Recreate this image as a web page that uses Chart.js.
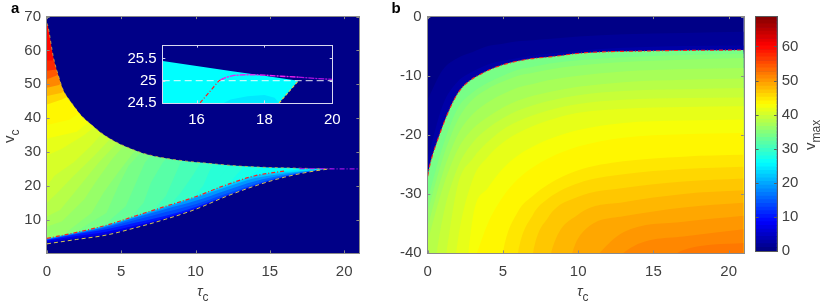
<!DOCTYPE html>
<html><head><meta charset="utf-8">
<script src="https://cdn.jsdelivr.net/npm/chart.js@4"></script>
<style>
html,body{margin:0;padding:0;background:#fff;width:830px;height:307px;overflow:hidden}
canvas{position:absolute;display:block}
</style></head><body>
<canvas id="panelA" width="380" height="307" style="left:0;top:0;width:380px;height:307px"></canvas>
<canvas id="inset" width="260" height="110" style="left:100px;top:30px;width:260px;height:110px"></canvas>
<canvas id="panelB" width="370" height="307" style="left:380px;top:0;width:370px;height:307px"></canvas>
<canvas id="cbar" width="80" height="307" style="left:750px;top:0;width:80px;height:307px"></canvas>
<script>
// ---------- Data ----------
const vmaxTop = 68.8;
const colorbarTicks = [0,10,20,30,40,50,60];

// Panel a: boundaries of the wedge
const upperTau = [0,.07,.43,.75,1.1,1.4,1.77,2.3,2.9,3.6,4.45,5.4,6.5,7.8,9.4,10.3,11.5,13,15,16,17,18,19,21];
const upperV   = [68,67,58,52.8,48.2,46,43.8,40.8,38.4,35.8,33.4,31.4,29.6,28.3,27.3,26.9,26.4,25.85,25.44,25.33,25.22,25.11,25,25];
const lowTau   = [0,2,4,6,8,10,12,14,16,18,19];
const redV     = [4.5,6.3,8.4,11.2,14,16.8,20.2,23,24.4,25.1,25.08];
const whiteV   = [2.9,4.2,5.5,7.7,10.2,13.1,16.8,20,22.6,24.4,25];
const tailTau  = [17,18,19,20,21];
const tailV    = [25.13,25.1,25.07,25.03,25.02];

// Panel a: contours of the blue sliver (value of the region beneath each curve)
const sliverValues = [22,19,16,13,10,7,4];
const sliverCurves = [
 [4.4,6.2,8.3,11.1,13.9,16.7,20,22.9,24,24.65,24.9],
 [4.3,6.1,8.2,10.9,13.7,16.5,19.5,22.3,23.7,24.6,24.95],
 [4.2,6,8,10.7,13.2,15.6,18.6,21.4,23.2,24.5,24.95],
 [4.1,5.9,7.7,10,12.3,14.6,17.6,20.6,22.9,24.45,24.95],
 [4,5.7,7.2,9.2,11.2,13.8,17,20.2,22.7,24.4,24.95],
 [3.8,5.2,6.5,8.4,10.6,13.3,16.9,20.1,22.65,24.4,24.95],
 [3.4,4.6,5.8,7.8,10.3,13.2,16.85,20.05,22.6,24.4,24.95]
];

// Panel a: contours of the main wedge, lowest value painted first
const fanValues = [27,28,29,30,31,32,33,34,35,36,37,38,39,40,41,42,43,44,46,48,51,54,57,60];
const fanTaus = [
 [13,14,15,15],[11.5,12.5,13.5,14],[10.5,11.5,12.5,13],[9.5,10.5,11,11.5,12],[8,9,9.8,10.5,11],[7,8,8.5,9,10,10.5],
 [5.5,6.5,7,7.8,9,9.5],[4,5.3,6,6.6,7.8,8.5],[2.5,4,4.8,5.5,7,7.5],[1.5,3,3.8,4.8,6.2,7],[1,2.5,3.4,4.4,5.6,6],
 [.9,2.2,3.5,5,5.3],[.7,1.8,3.2,4.5,4.8],[.5,1.8,3,4,4.3],[1,2.5,3.5,3.7],[2,3,3.2],[1.5,2.4,2.7],[1,1.8,2],
 [1,1.7,1.9],[1,1.5,1.7],[.8,1.2,1.4],[.6,1,1.2],[.5,1,1.2],[.5,.8,1]
];
const fanYs = [
 [20,24,27,40],[18,22,27,40],[16,22,27,40],[15,20,25,28,40],[13,18,23,28,40],[12,17,22,27,31,40],
 [10,15,21,27,32,40],[9,14,21,27,33,40],[8,12,20,26,33,40],[7,12,18,24,32,40],[9.5,16,22,28,34,45],
 [13,20,27,34,45],[18,23,29,35,45],[23,27,32,37,45],[31,35,38.5,45],[36,39.5,45],[39.5,42,50],[43,45,55],
 [45.5,47,60],[47.5,49,60],[49.8,51,60],[52.5,53.5,62],[54.3,54.8,62],[57,57.5,70]
];
const fanStartY = [0,0,0,0,0,0,0,0,0,0,8,11,15,20,29,34,38,41,44,46.5,49,51.5,54,57];

// Panel b: boundary and contours
const boundTau = [0,.1,.3,.6,1.04,1.48,1.85,2.26,2.7,3.26,4.6,6.35,8.57,10.1,14.5,21];
const boundV   = [-27,-25.6,-23.6,-21.3,-18.2,-15.5,-13.6,-12.1,-11.05,-10.1,-8.5,-7.35,-6.7,-6.2,-5.83,-5.66];
const bandTau  = [0,1,2,3,4,5,6,7,8,10,13,17,21];
const bandValues = [34,35,36,37,38,39,40,41,42,43,44,45,46,47,48,49,50,51,52];
const bandCurves = [
 [-29,-20,-14,-11.5,-10,-9,-8.2,-7.8,-7.5,-6.8,-6.3,-6,-5.9],
 [-31,-22,-15.5,-12.8,-11.2,-10,-9,-8.5,-8,-7.4,-6.9,-6.5,-6.3],
 [-33,-24,-17.5,-14,-12.2,-11,-10,-9.5,-9,-8.3,-7.7,-7.3,-7],
 [-35.5,-26.5,-20,-16.5,-14.5,-13.1,-12,-11.4,-10.8,-10,-9.3,-8.9,-8.7],
 [-38,-29,-22.5,-19,-17,-15.4,-14.2,-13.4,-12.8,-11.9,-11.1,-10.7,-10.5],
 [-50,-34,-25.5,-21.3,-18.9,-17.2,-15.9,-15,-14.3,-13.3,-12.6,-12.3,-12.1],
 [null,-44,-28.5,-24,-21.2,-19.1,-17.7,-16.7,-15.9,-14.8,-14.1,-13.8,-13.7],
 [null,-60,-38,-27.5,-23.7,-21.3,-19.7,-18.5,-17.6,-16.3,-15.6,-15.3,-15.2],
 [null,null,-60,-34,-29,-25.7,-23.5,-22,-20.8,-19.2,-18,-17.6,-17.4],
 [null,null,null,-42,-35,-30.5,-27.5,-25.5,-24,-22,-20.5,-19.9,-19.7],
 [null,null,null,null,-41,-33.5,-30,-27.8,-26.2,-24,-22.5,-21.7,-21.5],
 [null,null,null,null,-60,-40,-33,-30.3,-28.4,-26,-24.5,-23.7,-23.4],
 [null,null,null,null,null,-60,-40,-33.5,-30.8,-28.2,-26.7,-25.8,-25.4],
 [null,null,null,null,null,null,-60,-40,-34,-30.5,-29,-27.9,-27.4],
 [null,null,null,null,null,null,null,-60,-42,-33.5,-31.4,-30,-29.4],
 [null,null,null,null,null,null,null,null,-60,-37.5,-33.8,-32.3,-31.5],
 [null,null,null,null,null,null,null,null,null,-44,-36.5,-34.7,-33.7],
 [null,null,null,null,null,null,null,null,null,-60,-40,-37.2,-36],
 [null,null,null,null,null,null,null,null,null,null,-50,-39.5,-38.3]
];
const darkBandValues = [2,3];
const darkBandCurves = [
 [-14,-9,-7,-6,-5,-4.6,-4.2,-4,-3.8,-3.4,-3,-2.8,-2.6],
 [-24,-15,-11,-9.3,-8.1,-7.5,-7,-6.6,-6.3,-5.8,-5.3,-5,-4.9]
];

// Inset of panel a
const insetWedgeTau = [15,15,16,17,18,19,18.43];
const insetWedgeV   = [24.5,25.44,25.33,25.22,25.11,25,24.5];
const insetDeepTau  = [16.8,17,17.5,18,18.3,18.43];
const insetDeepV    = [24.5,24.58,24.65,24.68,24.62,24.5];
const insetRedTau   = [16.1,16.66,16.85];
const insetRedV     = [24.5,25,25.07];
const insetPinkTau  = [16.7,16.85,17.1,17.5,18,18.5,19];
const insetPinkV    = [25.02,25.07,25.12,25.135,25.125,25.1,25.08];
const insetPurpleTau= [19,19.5,20];
const insetPurpleV  = [25.08,25.05,25.03];
const insetWhiteTau = [15,20];
const insetWhiteV   = [25,25];
const insetLowTau   = [18.43,19];
const insetLowV     = [24.5,25];

// ---------- Helpers ----------
const clamp = x => Math.max(0, Math.min(1, x));
function jet(v){
  const t = (Math.floor(v / vmaxTop * 64) + .5) / 64;
  const r = clamp(Math.min(4*t-1.5, -4*t+4.5));
  const g = clamp(Math.min(4*t-.5, -4*t+3.5));
  const b = clamp(Math.min(4*t+.5, -4*t+2.5));
  return `rgb(${Math.round(r*255)},${Math.round(g*255)},${Math.round(b*255)})`;
}
const pts = (xs, ys) => xs.map((x,i)=>({x, y:ys[i]})).filter(p=>p.y!==null);
const SMOOTH = {cubicInterpolationMode:'monotone'};
const area = (xs, ys, color, fill, extra={}) => ({type:'line', data:pts(xs,ys), backgroundColor:color, borderColor:'transparent', borderWidth:0, pointRadius:0, fill, tension:0, ...extra});
const line = (xs, ys, color, dash, width=1.1, extra={}) => ({type:'line', data:pts(xs,ys), borderColor:color, backgroundColor:'transparent', borderWidth:width, borderDash:dash, pointRadius:0, fill:false, tension:0, ...extra});
const NAVY = jet(0);
const FONT = '"Liberation Sans", Arial, sans-serif';
const TEXT = '#404040';

// background, box, inward ticks, labels with subscripts
const decor = {
  id:'decor',
  beforeDatasetsDraw(c, _a, o){
    if(o.bg){ const A=c.chartArea, x=c.ctx; x.save(); x.fillStyle=o.bg; x.fillRect(A.left,A.top,A.right-A.left,A.bottom-A.top); x.restore(); }
  },
  afterDatasetsDraw(c, _a, o){
    const A=c.chartArea, x=c.ctx, L=2.6; x.save();
    x.strokeStyle=o.frame; x.lineWidth=1;
    const fl=Math.round(A.left)-.5, ft=Math.floor(A.top)+.5, fr=Math.round(A.right)+.5, fb=Math.round(A.bottom)+.5;
    x.strokeRect(fl,ft,fr-fl,fb-ft);
    x.beginPath();
    if(c.scales.x && c.scales.x.options.display!==false) c.scales.x.ticks.forEach(t=>{const p=Math.round(c.scales.x.getPixelForValue(t.value))+.5;x.moveTo(p,A.bottom);x.lineTo(p,A.bottom-L);x.moveTo(p,A.top);x.lineTo(p,A.top+L);});
    c.scales.y.ticks.forEach(t=>{const p=Math.round(c.scales.y.getPixelForValue(t.value))+.5;x.moveTo(A.left,p);x.lineTo(A.left+L,p);x.moveTo(A.right,p);x.lineTo(A.right-L,p);});
    x.stroke(); x.restore();
  },
  afterDraw(c, _a, o){
    const x=c.ctx; x.save(); x.fillStyle=TEXT; x.textBaseline='alphabetic';
    (o.labels||[]).forEach(l=>{
      x.save(); x.translate(l.x,l.y); if(l.rot) x.rotate(l.rot);
      x.font=`${l.style||''} ${l.size||15}px ${l.fam||FONT}`; x.fillStyle=l.color||TEXT; x.textAlign='left';
      x.fillText(l.main,0,0);
      if(l.sub){ const w=x.measureText(l.main).width; x.font=`12px ${FONT}`; x.fillText(l.sub,w,5); }
      x.restore();
    });
    x.restore();
  }
};

function axis(min,max,step,pad,size,color,pos){
  return {type:'linear',position:pos,min,max,
    grid:{display:false,drawTicks:false},border:{display:false},
    afterFit:s=>{ if(pos==='bottom') s.height=size; else s.width=size; },
    ticks:{stepSize:step,includeBounds:false,padding:pad,color,autoSkip:false,maxRotation:0,font:{family:FONT,size:15},callback:v=>String(v)}};
}
function makeChart(id, datasets, scales, padding, decorOpts){
  return new Chart(document.getElementById(id),{
    type:'line',
    data:{datasets:datasets.slice().reverse()},
    options:{responsive:false,animation:false,devicePixelRatio:1,layout:{padding},
      plugins:{legend:{display:false},tooltip:{enabled:false},title:{display:false},decor:decorOpts,filler:{propagate:false}},
      scales},
    plugins:[decor]});
}

// ---------- Panel a ----------
const aSets = [];
aSets.push(area([0,19,19,0],[0,0,70,70],jet(26),'shape'));
fanValues.forEach((v,i)=>{
  aSets.push(area([0,...fanTaus[i],0],[fanStartY[i],...fanYs[i],70],jet(v),'shape'));
});
aSets.push(area(lowTau,redV,jet(24),'start',SMOOTH));
sliverValues.forEach((v,i)=>aSets.push(area(lowTau,sliverCurves[i],jet(v),'start',SMOOTH)));
aSets.push(area([...lowTau,21],[...whiteV,25],NAVY,'start',SMOOTH));
aSets.push(area(upperTau,upperV,NAVY,'end',SMOOTH));
aSets.push(line(upperTau.slice(0,23),upperV.slice(0,23),'rgba(216,190,60,.85)',[3,3],.9,SMOOTH));
aSets.push(line(lowTau,whiteV,'#d8c850',[4,3],1,SMOOTH));
aSets.push(line(lowTau.slice(0,9),redV.slice(0,9),'#ff1e1e',[4,2,1,2],1.2,SMOOTH));
aSets.push(line(tailTau,tailV,'#a010e0',[5,2,1,2],1.3));
makeChart('panelA',aSets,{
  x:axis(0,21,5,10,54,TEXT,'bottom'),
  y:axis(.2,70,10,6,47,TEXT,'left')
},{left:0,top:16.5,right:21,bottom:0},{bg:NAVY,frame:'#8a8a8a',labels:[
  {main:'a',style:'bold',size:15,x:11,y:13,color:'#000'},
  {main:'τ',sub:'c',style:'italic',x:197,y:296},
  {main:'v',sub:'c',x:14,y:143,rot:-Math.PI/2}
]});

// ---------- Inset ----------
const iSets = [
  area(insetWedgeTau,insetWedgeV,'#00ffff','shape'),
  area(insetDeepTau,insetDeepV,'#00e8ff','shape'),
  line(insetWhiteTau,insetWhiteV,'#ffffff',[7,4],.9),
  line(insetLowTau,insetLowV,'#d8c850',[3,2],1.2),
  line(insetRedTau,insetRedV,'#ff1e1e',[4,2,1,2],1.2),
  line(insetPinkTau,insetPinkV,'#f020f0',[6,1,2,1],1.4),
  line(insetPurpleTau,insetPurpleV,'#b010e0',[6,1,2,1],1.3)
];
const iX = axis(15,20,2,8,7,'#ffffff','bottom');
iX.afterBuildTicks = s => { s.ticks=[{value:16},{value:18},{value:20}]; };
iX.afterFit = s => { s.height=37; };
const iY = axis(24.5,25.8,.5,6,62.7,'#ffffff','left');
iY.afterBuildTicks = s => { s.ticks=[{value:24.5},{value:25},{value:25.5}]; };
makeChart('inset',iSets,{x:iX,y:iY},{left:0,top:11,right:27.7,bottom:0},{frame:'#d8d8f0'});

// ---------- Panel b ----------
const bSets = [];
darkBandValues.forEach((v,i)=>bSets.push(area(bandTau,darkBandCurves[i],jet(v),'start',SMOOTH)));
bSets.push(area(boundTau,boundV,jet(33.5),'start',SMOOTH));
bandValues.forEach((v,i)=>bSets.push(area(bandTau,bandCurves[i],jet(v),'start',SMOOTH)));
bSets.push(line(boundTau,boundV,'#ff1e1e',[4,2,1,2],1.1,SMOOTH));
makeChart('panelB',bSets,{
  x:axis(0,21,5,10,54,TEXT,'bottom'),
  y:axis(-40,0,10,6,47.7,TEXT,'left')
},{left:0,top:16.5,right:6.3,bottom:0},{bg:NAVY,frame:'#8a8a8a',labels:[
  {main:'b',style:'bold',size:15,x:11.5,y:13,color:'#000'},
  {main:'τ',sub:'c',style:'italic',x:197,y:296}
]});

// ---------- Colour bar ----------
const stepValues = Array.from({length:64},(_,i)=>i);
const cbSets = stepValues.map(i=>({type:'bar',stack:'s',data:[vmaxTop/64],backgroundColor:jet((i+.5)*vmaxTop/64),borderWidth:0,barPercentage:1,categoryPercentage:1}));
const cbY = axis(0,vmaxTop,10,5,53.3,TEXT,'right');
cbY.stacked = true;
cbY.afterBuildTicks = s => { s.ticks=colorbarTicks.map(v=>({value:v})); };
new Chart(document.getElementById('cbar'),{
  type:'bar',
  data:{labels:['vmax'],datasets:cbSets},
  options:{responsive:false,animation:false,devicePixelRatio:1,layout:{padding:{left:6,top:16.5,bottom:56,right:0}},
    plugins:{legend:{display:false},tooltip:{enabled:false},decor:{bg:NAVY,frame:'#5a5a5a',labels:[
      {main:'v',sub:'max',x:65,y:150,rot:-Math.PI/2}
    ]}},
    scales:{x:{type:'category',display:false,stacked:true,grid:{display:false},offset:true},y:cbY}},
  plugins:[decor]});
</script>
</body></html>
